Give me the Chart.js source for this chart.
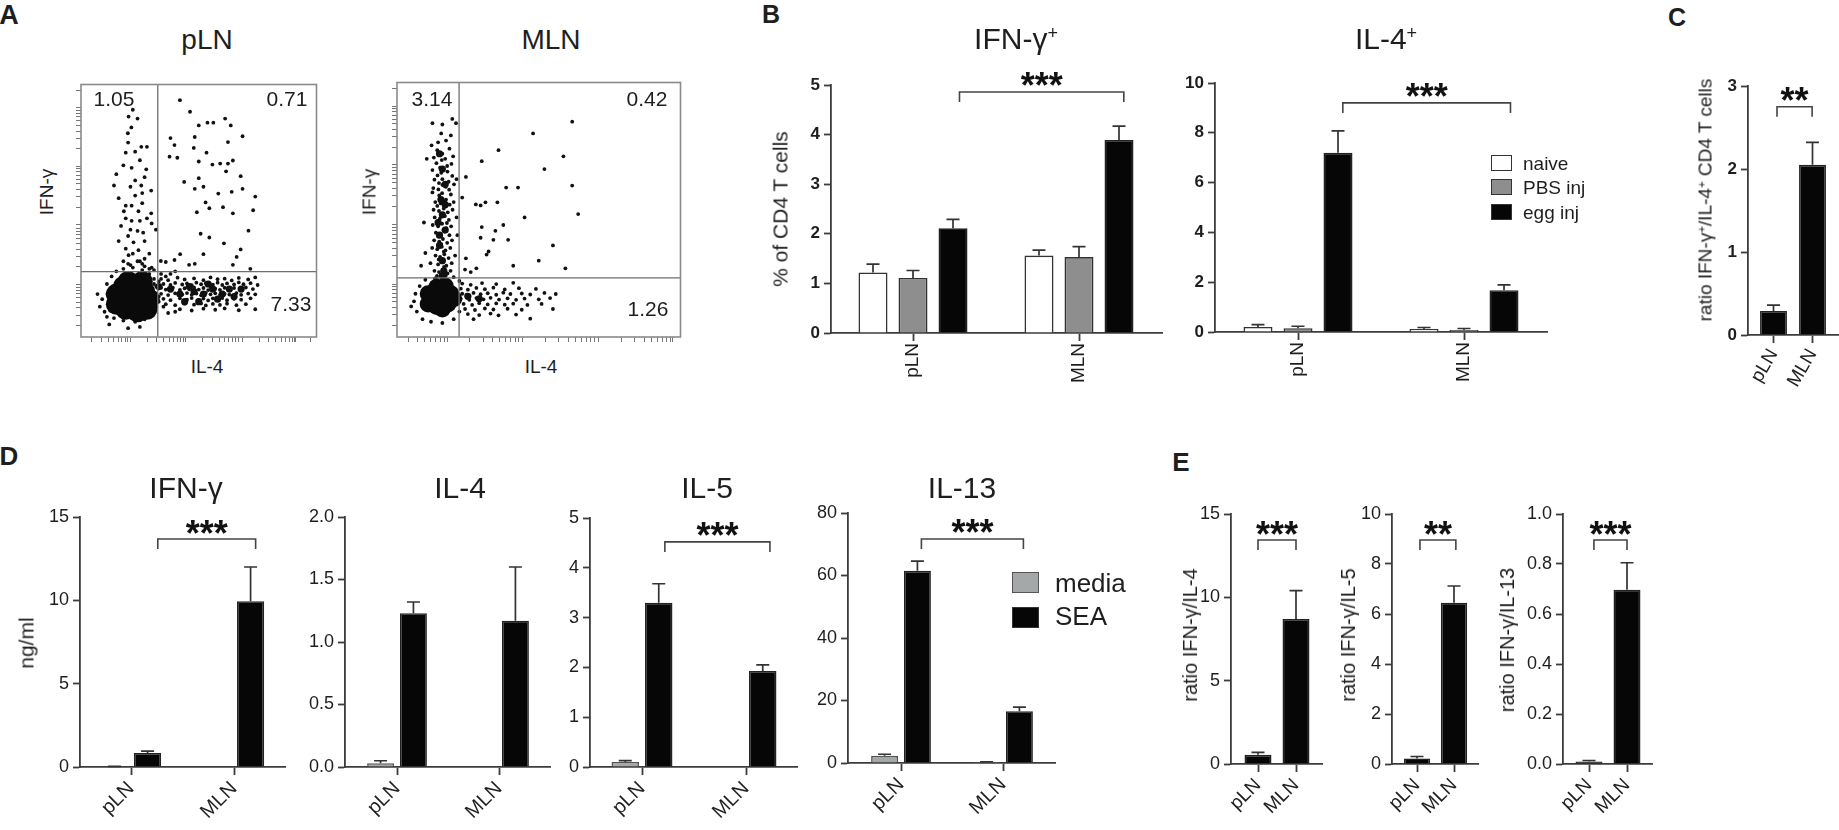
<!DOCTYPE html>
<html><head><meta charset="utf-8">
<script src="https://cdn.jsdelivr.net/npm/chart.js@4.4.1/dist/chart.umd.min.js"></script>
<style>
html,body{margin:0;padding:0;background:#fff}
body{width:1839px;height:830px;position:relative;overflow:hidden;font-family:"Liberation Sans",Arial,sans-serif;color:#1e1e1e}
canvas{position:absolute}
.t{position:absolute;white-space:nowrap;line-height:1}
.c{transform:translate(-50%,-50%)}
.r{transform:translate(-50%,-50%) rotate(-90deg)}
.b{font-weight:bold}
.sp{font-size:0.6em;position:relative;top:-0.55em}
.lb{position:absolute;box-sizing:border-box}
</style></head><body>
<canvas id="fa1"></canvas><canvas id="fa2"></canvas>
<canvas id="cb1"></canvas><canvas id="cb2"></canvas><canvas id="cc"></canvas>
<canvas id="cd1"></canvas><canvas id="cd2"></canvas><canvas id="cd3"></canvas><canvas id="cd4"></canvas>
<canvas id="ce1"></canvas><canvas id="ce2"></canvas><canvas id="ce3"></canvas>

<!-- Panel A text -->
<div class="t c b" style="left:9px;top:15px;font-size:27px">A</div>
<div class="t c" style="left:207px;top:40px;font-size:28px">pLN</div>
<div class="t c" style="left:551px;top:40px;font-size:28px">MLN</div>
<div class="t c" id="q1" style="left:114px;top:98px;font-size:21px"></div>
<div class="t c" id="q2" style="left:287px;top:98px;font-size:21px"></div>
<div class="t c" id="q3" style="left:291px;top:303px;font-size:21px"></div>
<div class="t c" id="q4" style="left:432px;top:98px;font-size:21px"></div>
<div class="t c" id="q5" style="left:647px;top:98px;font-size:21px"></div>
<div class="t c" id="q6" style="left:648px;top:308px;font-size:21px"></div>
<div class="t r" style="left:46px;top:192px;font-size:19px">IFN-γ</div>
<div class="t r" style="left:369px;top:192px;font-size:19px">IFN-γ</div>
<div class="t c" style="left:207px;top:366px;font-size:19px">IL-4</div>
<div class="t c" style="left:541px;top:366px;font-size:19px">IL-4</div>

<!-- Panel B text -->
<div class="t c b" style="left:771px;top:14px;font-size:25px">B</div>
<div class="t c" style="left:1016px;top:39px;font-size:30px">IFN-γ<span class="sp">+</span></div>
<div class="t c" style="left:1386px;top:39px;font-size:30px">IL-4<span class="sp">+</span></div>
<div class="t r" style="left:780px;top:209px;font-size:21px">% of CD4 T cells</div>
<div class="lb" style="left:1491px;top:155px;width:21px;height:16px;background:#fff;border:1.5px solid #333"></div>
<div class="lb" style="left:1491px;top:179px;width:21px;height:16px;background:#8e8e8e;border:1.5px solid #333"></div>
<div class="lb" style="left:1491px;top:204px;width:21px;height:16px;background:#060606;border:1.5px solid #333"></div>
<div class="t" id="lgB0" style="left:1523px;top:154px;font-size:19px"></div>
<div class="t" id="lgB1" style="left:1523px;top:178px;font-size:19px"></div>
<div class="t" id="lgB2" style="left:1523px;top:203px;font-size:19px"></div>

<!-- Panel C text -->
<div class="t c b" style="left:1677px;top:17px;font-size:25px">C</div>
<div class="t r" style="left:1705px;top:200px;font-size:19px">ratio IFN-γ<span class="sp">+</span>/IL-4<span class="sp">+</span> CD4 T cells</div>

<!-- Panel D text -->
<div class="t c b" style="left:9px;top:456px;font-size:26px">D</div>
<div class="t c" style="left:186px;top:488px;font-size:30px">IFN-γ</div>
<div class="t c" style="left:460px;top:488px;font-size:30px">IL-4</div>
<div class="t c" style="left:707px;top:488px;font-size:30px">IL-5</div>
<div class="t c" style="left:962px;top:488px;font-size:30px">IL-13</div>
<div class="t r" style="left:26px;top:643px;font-size:21px">ng/ml</div>
<div class="lb" style="left:1012px;top:572px;width:27px;height:21px;background:#a5a8a8;border:1.5px solid #555"></div>
<div class="lb" style="left:1012px;top:607px;width:27px;height:21px;background:#060606;border:1.5px solid #333"></div>
<div class="t" id="lgD0" style="left:1055px;top:570px;font-size:26px"></div>
<div class="t" id="lgD1" style="left:1055px;top:603px;font-size:26px"></div>

<!-- Panel E text -->
<div class="t c b" style="left:1181px;top:462px;font-size:26px">E</div>
<div class="t r" style="left:1190px;top:635px;font-size:20px">ratio IFN-γ/IL-4</div>
<div class="t r" style="left:1348px;top:635px;font-size:20px">ratio IFN-γ/IL-5</div>
<div class="t r" style="left:1507px;top:640px;font-size:20px">ratio IFN-γ/IL-13</div>

<script>
// ================= DATA =================
const nodeCats = ['pLN', 'MLN'];

// ---- Panel A: flow cytometry (IL-4 on x, IFN-γ on y, display units 0-100) ----
const pLNQuad = ['1.05', '0.71', '7.33'];
const MLNQuad = ['3.14', '0.42', '1.26'];
const pLNGate = [32.6, 25.9];
const MLNGate = [21.9, 23.2];
// dense cores (big marks), medium-density spots, single events
const pLNCore = [[17,15],[21,13],[25,14],[27,18],[23,20],[18,20],[15,17],[21,17],[19,11],[24,10],[29,15],[15,13],[20,22],[26,22],[28,11]];
const pLNMid = [[48,18],[52,17],[56,19],[60,17],[63,19],[54,21],[58,15],[46,20],[50,14],[65,16],[42,17],[38,19],[68,19],[44,14],[33,20],[31,13],[12,17],[13,11]];
const pLNDots = [
 [20.2,87.3],[24,86.5],[21.4,83],[19.9,80.7],[19,73],[23,73.4],[25.6,75.3],[28,75.3],[15,64.5],[21.5,67],[27.7,66.4],[27,63.3],
 [21,59.5],[25.6,60],[29.8,58],[21.5,52],[18.2,49.8],[24.4,49.8],[29.8,49],[21.5,46],[25,46],[21,42.5],[26.4,41.3],[22.3,37.5],
 [24.4,34.4],[20.2,32.4],[27,31],[31.8,42.5],
 [16,55],[19,52],[23,56],[26,53],[28,47],[17,44],[20,40],[24,42],[27,38],[19,35],[22,33],[25,30],[18,30],[29,33],[21,28.5],
 [26,29],[16,38],[30,45],[14,60],[23,62],[18,68],[25,70],[20,77],[22,90],[26,57],[19,47],
 [42,93.8],[46.3,89.2],[50,83.8],[53.7,84.9],[56.2,84.9],[61.2,86.5],[63.6,83.8],[68.6,79.5],[38,78.8],[39.7,76],[48.3,79.2],
 [47.9,74.9],[53.3,73],[62.4,77.2],[37.6,71.4],[40.9,71],[50,69.5],[55.8,68.3],[59.1,68.7],[62.4,68.7],[64.5,69.9],[61.6,65.6],
 [67.8,63.7],[43.8,61.4],[50,62.9],[48.3,58.7],[52,59.5],[58.3,56.8],[64,57.5],[68.6,58.7],[74,55.6],[52.9,53.3],[54.5,51],
 [49.2,49.4],[60.3,51.4],[64.5,49],[73.1,50.2],[50.8,40.9],[54.5,39.4],[71.1,42.1],[60.7,37.1],[52,32.8],[67.8,34.7],[66.1,31.7],
 [64.5,28.6],[42.1,32.8],[39.7,30.5],[33.9,30.1],[36,29.7],[45.9,28.6],[48.3,29],[71.9,27],
 [34,23],[37,22.5],[41,23.5],[44,22.8],[48,23.2],[52,22.5],[55,23.6],[58,22.9],[61,23.1],[64,22.4],[67,23.4],[71,22.8],[74,23.6],
 [35,21],[38,20.6],[40,21.4],[43,20.8],[45,21.2],[47,20.5],[49,21.5],[51,20.9],[53,21.3],[56,20.7],[58,21.5],[60,20.6],[62,21.2],
 [65,20.8],[67,21.6],[69,20.9],[72,21.3],[75,20.6],
 [33,19.2],[36,18.8],[39,19.5],[42,18.7],[44,19.3],[46,18.9],[48,19.6],[50,18.8],[52,19.4],[54,18.6],[55,19.8],[57,19.1],[59,18.7],
 [61,19.5],[63,18.9],[65,19.4],[68,18.8],[70,19.6],[73,19.0],
 [34,17.1],[37,16.6],[40,17.3],[43,16.8],[45,17.4],[47,16.7],[49,17.2],[51,16.5],[53,17.5],[55,16.9],[57,17.3],[59,16.6],[61,17.1],
 [63,16.8],[66,17.4],[68,16.7],[71,17.2],[74,16.9],
 [35,15.1],[38,14.6],[42,15.3],[45,14.8],[47,15.4],[50,14.7],[52,15.2],[54,14.5],[56,15.3],[58,14.9],[60,15.4],[62,14.6],[65,15.1],
 [68,14.8],[72,15.3],
 [36,13.0],[40,12.6],[44,13.2],[48,12.8],[51,13.3],[53,12.5],[56,13.1],[59,12.7],[62,13.2],[66,12.6],[70,13.0],
 [42,11.0],[47,10.5],[52,11.2],[57,10.8],[61,11.3],[67,10.6],[74,11.0],
 [31,21],[33,22],[34,19.5],[32,17],[33,14],[31,11],[35,12],[36,24],[38,25],[40,26],[34,25],[31,26.5],[29,27],[37,9.5],[40,10],
 [10,10],[9,15],[11,21],[13,24],[15,26],[18,27],[22,27.5],[26,26.5],[29,25],[31,23],[32,20],[33,16],[32,12],[30,8.5],[27,7],
 [23,6],[18,6.5],[14,7.5],[11,8],[30,27.5],[27,28],[20,29],[24,30],[7,17],[8,12],[12,5],[25,4],[20,3.5]
];
const MLNCore = [[11,13],[14,12],[18,13],[19,17],[15,16],[11,17],[14,19.5],[17,20],[16,11],[12,15.5],[20,15]];
const MLNMid = [[16,30],[15,36],[17,42],[16,48],[15.5,54],[17,60],[16,66],[15,72],[16.5,26],[15,40],[17,52],[14.5,45],[16,24],[25,16],[29,15]];
const MLNDots = [
 [12.5,84],[19.5,85.7],[20.8,84],[16,83.5],[15.6,80],[19,79.2],[17.3,77.2],[12.2,75.3],[14.5,76.5],[14.2,73.4],[18.5,74],[16,72],
 [13,70.5],[15.8,69.5],[19.8,71],[17,70],[13.9,68.3],[17.7,67.2],[15.2,66.5],[19.2,68],[12.5,65.6],[15.6,64.5],[17.8,65],[14.3,63.5],
 [19.5,63.3],[13.2,61.8],[16,62],[18.2,61],[14.8,60.5],[20.1,60],[12.8,58.5],[16,59.8],[18.4,57.9],[14.6,58],[17.2,59],[12.5,56.8],
 [14.9,55.6],[17.3,54],[19,56],[15.9,56.5],[13.5,53],[15.4,52.5],[16.8,53.3],[18.6,52],[14.2,51.5],[20,53],[12.9,50],[14.8,49.5],
 [16.5,50.5],[17.9,49],[19.6,50],[15.7,48.5],[13.3,47],[15.1,46.5],[16.9,47.5],[18.3,46],[14.4,45.5],[17.6,44.8],[12.6,44],[14.5,43.5],
 [15.9,44.5],[17.4,42.8],[19.1,43.5],[16.4,42],[13.7,41],[15.3,40.5],[16.8,41.5],[18.5,40],[14.6,39.5],[13.1,38],[14.9,37.5],[16.2,38.5],
 [17.7,37],[19.4,38],[15.6,36.5],[12.4,35],[14.2,34.5],[15.8,35.5],[17.1,34],[18.8,35],[16.5,33.5],[13.6,32],[15.2,31.5],[16.7,32.5],
 [18.2,31],[14.7,30.5],[20.5,32],[11.8,29],[14.5,28.5],[15.9,29.5],[17.4,28],[19.3,29],[16.6,27.5],[13.2,26],[14.8,25.5],[16.3,26.5],
 [17.8,25],[15.5,24.5],[18.9,26],[14.1,24],[15.7,23.5],[17.2,24.2],[16.4,22.8],[13.4,23],
 [10.5,70],[21,62],[9.5,45],[21.3,40],[8.5,28],[10,33],[21,47],
 [23,21],[26,20.5],[30,21.2],[35,20.8],[41,21.3],
 [22.5,19],[25,18.6],[28,19.3],[31,18.8],[34,19.4],[38,18.7],[43,19.2],[49,18.9],
 [23,17],[24.5,16.5],[27,17.3],[29.5,16.8],[32,17.2],[35,16.6],[37.5,17.4],[40,16.9],[44,17.1],[47,16.7],[52,17.3],[56,16.9],
 [22.5,15],[25.5,14.6],[28,15.3],[30.5,14.8],[33,15.4],[36,14.7],[39,15.2],[42,14.6],[45,15.1],[50,14.8],[54,15.3],
 [23.5,13],[26.5,12.6],[29,13.3],[32,12.8],[35,13.2],[38,12.7],[41,13.1],[46,12.6],[51,13],
 [24,11],[27.5,10.6],[31,11.2],[34,10.8],[39,11.1],[44,10.7],[55,11],
 [25,9],[29,8.6],[33,9.2],[42,8.8],[27,7],[35.8,8.5],[47,7.2],
 [6,14],[7,10],[8,20],[9,7],[12,6],[16,5.5],[20,7],[22,10],[22,22],[20,23.5],[14,23],[10,22.5],[6.5,17],[5,12],
 [24.3,62.9],[29.9,69.1],[35.8,73.4],[38.5,58.7],[42.7,58.7],[23,54.8],[27.8,52.1],[29.5,51.7],[31.2,52.9],[35.4,52.9],[29.9,43.2],
 [34.7,41.7],[37.5,44],[39.2,38.2],[29.5,39],[34,38.2],[32.3,33.6],[31.6,32.4],[24.3,30.9],[61.8,84.6],[58.7,71],[61.8,59.5],
 [63.9,48.3],[59.4,27],[48,80],[52,66],[45,47],[55,36],[50,30],[41,28],[26,25.5],[28,27],[24,26.5]
];
// log-decade starts of the flow axes (display units)
const flowYDecades = [-2.4, 20.8, 44.4, 67.6, 90.7];
const pLNXDecades = [-2.5, 21, 44.5, 68.6, 90.5];
const MLNXDecades = [-8.7, 17.7, 44.4, 71.2, 97.2];

// ---- Panel B: % of CD4 T cells ----
const groupsB = ['naive', 'PBS inj', 'egg inj'];
const ifngNaive = [1.22, 1.56], ifngNaiveErr = [0.17, 0.11];
const ifngPBS   = [1.11, 1.53], ifngPBSErr   = [0.15, 0.21];
const ifngEgg   = [2.11, 3.89], ifngEggErr   = [0.18, 0.28];
const il4Naive  = [0.20, 0.12], il4NaiveErr  = [0.10, 0.06];
const il4PBS    = [0.15, 0.08], il4PBSErr    = [0.08, 0.06];
const il4Egg    = [7.20, 1.68], il4EggErr    = [0.88, 0.21];
const ticksB1 = ['0','1','2','3','4','5'];
const ticksB2 = ['0','2','4','6','8','10'];
const sigB1 = [['***', 0.28, 1.27, 4.86]];
const sigB2 = [['***', 0.27, 1.28, 9.2]];

// ---- Panel C ----
const ratioC = [0.29, 2.05], ratioCErr = [0.07, 0.27];
const ticksC = ['0','1','2','3'];
const sigC = [['**', 0.09, 0.99, 2.75]];

// ---- Panel D: ng/ml ----
const groupsD = ['media', 'SEA'];
const dIFNmedia  = [0.03, 0.00], dIFNmediaErr  = [0.01, 0],   dIFNsea  = [0.84, 9.95], dIFNseaErr  = [0.11, 2.05];
const dIL4media  = [0.03, 0.00], dIL4mediaErr  = [0.02, 0],   dIL4sea  = [1.23, 1.17], dIL4seaErr  = [0.09, 0.43];
const dIL5media  = [0.10, 0.00], dIL5mediaErr  = [0.03, 0],   dIL5sea  = [3.30, 1.93], dIL5seaErr  = [0.38, 0.12];
const dIL13media = [2.3, 0.3],   dIL13mediaErr = [0.5, 0.1],  dIL13sea = [61.5, 16.6], dIL13seaErr = [3.1, 1.3];
const ticksD1 = ['0','5','10','15'];
const ticksD2 = ['0.0','0.5','1.0','1.5','2.0'];
const ticksD3 = ['0','1','2','3','4','5'];
const ticksD4 = ['0','20','40','60','80'];
const sigD1 = [['***', 0.26, 1.21, 13.68]];
const sigD3 = [['***', 0.22, 1.23, 4.52]];
const sigD4 = [['***', 0.20, 1.20, 71.7]];

// ---- Panel E: ratios ----
const eIL4  = [0.55, 8.7],  eIL4Err  = [0.15, 1.7];
const eIL5  = [0.22, 6.45], eIL5Err  = [0.08, 0.67];
const eIL13 = [0.01, 0.697], eIL13Err = [0.004, 0.108];
const ticksE1 = ['0','5','10','15'];
const ticksE2 = ['0','2','4','6','8','10'];
const ticksE3 = ['0.0','0.2','0.4','0.6','0.8','1.0'];
const sigE1 = [['***', 0.0, 1.0, 13.44]];
const sigE2 = [['**', 0.08, 1.05, 8.96]];
const sigE3 = [['***', 0.13, 1.0, 0.896]];

// ================= TEXT FROM DATA =================
['q1','q2','q3'].forEach((id,i)=>document.getElementById(id).textContent = pLNQuad[i]);
['q4','q5','q6'].forEach((id,i)=>document.getElementById(id).textContent = MLNQuad[i]);
groupsB.forEach((g,i)=>document.getElementById('lgB'+i).textContent = g);
groupsD.forEach((g,i)=>document.getElementById('lgD'+i).textContent = g);

// ================= STYLE =================
const FONT = '"Liberation Sans", Arial, sans-serif';
const AX = '#3c3c3c';
const WHITE = '#ffffff', GREY = '#8e8e8e', BLACK = '#060606', MEDIA = '#a5a8a8';

const errPlugin = {
  id: 'errbars',
  afterDatasetsDraw(chart) {
    const ctx = chart.ctx, ys = chart.scales.y;
    chart.data.datasets.forEach((ds, di) => {
      if (!ds.err) return;
      const meta = chart.getDatasetMeta(di);
      meta.data.forEach((bar, i) => {
        const e = ds.err[i];
        if (!e) return;
        const v = ds.data[i].y;
        const yt = ys.getPixelForValue(v + e);
        const cap = 6.5;
        ctx.save();
        ctx.strokeStyle = '#333'; ctx.lineWidth = 1.7;
        ctx.beginPath();
        ctx.moveTo(bar.x, ys.getPixelForValue(v)); ctx.lineTo(bar.x, yt);
        ctx.moveTo(bar.x - cap, yt); ctx.lineTo(bar.x + cap, yt);
        ctx.stroke(); ctx.restore();
      });
    });
  }
};
const sigPlugin = {
  id: 'sig',
  afterDraw(chart, args, opts) {
    const items = opts.items || [];
    const ctx = chart.ctx, xs = chart.scales.x, ys = chart.scales.y;
    items.forEach(([label, a, b, h]) => {
      const x1 = xs.getPixelForValue(a), x2 = xs.getPixelForValue(b), y = ys.getPixelForValue(h);
      const leg = 10;
      ctx.save();
      ctx.strokeStyle = '#444'; ctx.lineWidth = 1.6;
      ctx.beginPath();
      ctx.moveTo(x1, y + leg); ctx.lineTo(x1, y); ctx.lineTo(x2, y); ctx.lineTo(x2, y + leg);
      ctx.stroke();
      ctx.fillStyle = '#111';
      ctx.font = 'bold 36px ' + FONT;
      ctx.textAlign = 'center'; ctx.textBaseline = 'alphabetic';
      ctx.fillText(label, (x1 + x2) / 2, y - 14 + 20.5);
      ctx.restore();
    });
  }
};

function barChart(id, g, series, ticks, sig, o) {
  const LW = 62, PT = 32, PB = 78, PR = 12;
  const cv = document.getElementById(id);
  const W = LW + (g.r - g.l) + PR, H = PT + (g.bot - g.top) + PB;
  cv.width = W; cv.height = H;
  cv.style.width = W + 'px'; cv.style.height = H + 'px';
  cv.style.left = (g.l - LW) + 'px'; cv.style.top = (g.top - PT) + 'px';
  const unit = g.x1 - g.x0;
  const xmin = (g.l - g.x0) / unit, xmax = 1 + (g.r - g.x1) / unit;
  const tv = ticks.map(Number);
  new Chart(cv, {
    type: 'bar',
    data: {
      datasets: series.map(s => ({
        label: s.label,
        data: s.vals.map((v, i) => ({ x: i, y: v })),
        err: s.err,
        backgroundColor: s.fill, borderColor: s.stroke, borderWidth: 1.6,
        categoryPercentage: o.cp, barPercentage: o.bp
      }))
    },
    options: {
      responsive: false, animation: false, devicePixelRatio: 1,
      layout: { padding: { top: PT, right: PR, left: 0, bottom: 0 } },
      plugins: { legend: { display: false }, tooltip: { enabled: false }, sig: { items: sig } },
      scales: {
        x: {
          type: 'linear', min: xmin, max: xmax, offset: false,
          grid: { display: true, drawOnChartArea: false, drawTicks: true, tickLength: 8, tickColor: AX, tickWidth: 1.8, offset: false },
          border: { display: true, color: AX, width: 1.8 },
          afterBuildTicks: s => { s.ticks = [{ value: 0 }, { value: 1 }]; },
          ticks: { callback: v => nodeCats[v], minRotation: o.rot, maxRotation: o.rot, autoSkip: false,
                   font: { family: FONT, size: o.xsize, weight: o.xweight }, color: '#1e1e1e', padding: 2 },
          afterFit: s => { s.height = PB; s.paddingLeft = 0; s.paddingRight = 0; }
        },
        y: {
          type: 'linear', min: tv[0], max: tv[tv.length - 1],
          grid: { display: true, drawOnChartArea: false, drawTicks: true, tickLength: 7, tickColor: AX, tickWidth: 1.8 },
          border: { display: true, color: AX, width: 1.8 },
          afterBuildTicks: s => { s.ticks = tv.map(v => ({ value: v })); },
          ticks: { callback: (v, i) => ticks[i], autoSkip: false,
                   font: { family: FONT, size: o.ysize, weight: o.yweight }, color: '#1e1e1e', padding: 4 },
          afterFit: s => { s.width = LW; s.paddingTop = 0; s.paddingBottom = 0; }
        }
      }
    },
    plugins: [errPlugin, sigPlugin]
  });
}

function decadeTicks(starts, width) {
  const out = [];
  starts.forEach(d => { for (let k = 1; k <= 9; k++) { const v = d + width * Math.log10(k); if (v >= 0 && v <= 100) out.push(v); } });
  return out;
}

function flowChart(id, box, core, coreR, mid, dots, gate, xTicks, yTicks) {
  const ML = 18, MT = 4, MR = 4, MB = 12;
  const cv = document.getElementById(id);
  const W = ML + (box.r - box.l) + MR, H = MT + (box.b - box.t) + MB;
  cv.width = W; cv.height = H;
  cv.style.width = W + 'px'; cv.style.height = H + 'px';
  cv.style.left = (box.l - ML) + 'px'; cv.style.top = (box.t - MT) + 'px';
  const boxPlugin = {
    id: 'box',
    afterDatasetsDraw(chart) {
      const { ctx, chartArea: a, scales: { x, y } } = chart;
      ctx.save();
      ctx.strokeStyle = '#6e6e6e'; ctx.lineWidth = 1.3;
      const gx = x.getPixelForValue(gate[0]), gy = y.getPixelForValue(gate[1]);
      ctx.beginPath();
      ctx.moveTo(gx, a.top); ctx.lineTo(gx, a.bottom);
      ctx.moveTo(a.left, gy); ctx.lineTo(a.right, gy);
      ctx.stroke();
      ctx.strokeStyle = '#8a8a8a'; ctx.lineWidth = 1.6;
      ctx.strokeRect(a.left, a.top, a.right - a.left, a.bottom - a.top);
      ctx.restore();
    }
  };
  const axis = (ticks, isX) => ({
    type: 'linear', min: 0, max: 100,
    grid: { display: true, drawOnChartArea: false, drawTicks: true, tickLength: 5, tickColor: '#777', tickWidth: 1 },
    border: { display: false },
    afterBuildTicks: s => { s.ticks = ticks.map(v => ({ value: v })); },
    ticks: { display: false },
    afterFit: s => { if (isX) { s.height = MB; s.paddingLeft = 0; s.paddingRight = 0; } else { s.width = ML; s.paddingTop = 0; s.paddingBottom = 0; } }
  });
  new Chart(cv, {
    type: 'scatter',
    data: { datasets: [
      { data: core.map(([x, y]) => ({ x, y })), pointRadius: coreR, backgroundColor: '#0a0a0a', borderWidth: 0 },
      { data: mid.map(([x, y]) => ({ x, y })), pointRadius: 3.6, backgroundColor: '#101010', borderWidth: 0 },
      { data: dots.map(([x, y]) => ({ x, y })), pointRadius: 1.9, backgroundColor: '#111', borderWidth: 0 }
    ] },
    options: {
      responsive: false, animation: false, devicePixelRatio: 1,
      layout: { padding: { top: MT, right: MR, left: 0, bottom: 0 } },
      plugins: { legend: { display: false }, tooltip: { enabled: false } },
      scales: { x: axis(xTicks, true), y: axis(yTicks, false) }
    },
    plugins: [boxPlugin]
  });
}

// ================= BUILD =================
flowChart('fa1', { l: 81, r: 323, t: 78, b: 337 }, pLNCore, 10.5, pLNMid, pLNDots, pLNGate,
  decadeTicks(pLNXDecades, 23.5), decadeTicks(flowYDecades, 23.2));
flowChart('fa2', { l: 397, r: 685, t: 78, b: 337 }, MLNCore, 8.5, MLNMid, MLNDots, MLNGate,
  decadeTicks(MLNXDecades, 26.5), decadeTicks(flowYDecades, 23.2));

const oB = { cp: 0.723, bp: 0.725, rot: 90, xsize: 19, xweight: 'normal', ysize: 17, yweight: 'bold' };
barChart('cb1', { l: 831, r: 1162, x0: 913, x1: 1079, top: 85, bot: 333 }, [
  { label: groupsB[0], vals: ifngNaive, err: ifngNaiveErr, fill: WHITE, stroke: '#333' },
  { label: groupsB[1], vals: ifngPBS, err: ifngPBSErr, fill: GREY, stroke: '#333' },
  { label: groupsB[2], vals: ifngEgg, err: ifngEggErr, fill: BLACK, stroke: '#222' }
], ticksB1, sigB1, oB);
barChart('cb2', { l: 1215, r: 1547, x0: 1298, x1: 1464, top: 83, bot: 332 }, [
  { label: groupsB[0], vals: il4Naive, err: il4NaiveErr, fill: WHITE, stroke: '#333' },
  { label: groupsB[1], vals: il4PBS, err: il4PBSErr, fill: GREY, stroke: '#333' },
  { label: groupsB[2], vals: il4Egg, err: il4EggErr, fill: BLACK, stroke: '#222' }
], ticksB2, sigB2, oB);

barChart('cc', { l: 1748, r: 1838, x0: 1773.5, x1: 1812.5, top: 86, bot: 335 }, [
  { label: 'ratio', vals: ratioC, err: ratioCErr, fill: BLACK, stroke: '#222' }
], ticksC, sigC, { cp: 1, bp: 0.69, rot: 60, xsize: 19, xweight: 'normal', ysize: 17, yweight: 'bold' });

const oD = { cp: 0.644, bp: 0.82, rot: 45, xsize: 20, xweight: 'normal', ysize: 18, yweight: 'normal' };
const dSeries = (m, me, s, se) => [
  { label: groupsD[0], vals: m, err: me, fill: MEDIA, stroke: '#555' },
  { label: groupsD[1], vals: s, err: se, fill: BLACK, stroke: '#222' }
];
barChart('cd1', { l: 80, r: 285, x0: 131, x1: 234, top: 517, bot: 767 }, dSeries(dIFNmedia, dIFNmediaErr, dIFNsea, dIFNseaErr), ticksD1, sigD1, oD);
barChart('cd2', { l: 345, r: 550, x0: 397, x1: 499, top: 517, bot: 767 }, dSeries(dIL4media, dIL4mediaErr, dIL4sea, dIL4seaErr), ticksD2, [], oD);
barChart('cd3', { l: 590, r: 797, x0: 642, x1: 746, top: 518, bot: 767 }, dSeries(dIL5media, dIL5mediaErr, dIL5sea, dIL5seaErr), ticksD3, sigD3, oD);
barChart('cd4', { l: 848, r: 1055, x0: 901, x1: 1003, top: 513, bot: 763 }, dSeries(dIL13media, dIL13mediaErr, dIL13sea, dIL13seaErr), ticksD4, sigD4, oD);

const oE = { cp: 1, bp: 0.71, rot: 45, xsize: 19, xweight: 'normal', ysize: 18, yweight: 'normal' };
barChart('ce1', { l: 1231, r: 1322, x0: 1258, x1: 1296, top: 514, bot: 764 }, [{ label: 'ratio', vals: eIL4, err: eIL4Err, fill: BLACK, stroke: '#222' }], ticksE1, sigE1, oE);
barChart('ce2', { l: 1392, r: 1478, x0: 1417, x1: 1454, top: 514, bot: 764 }, [{ label: 'ratio', vals: eIL5, err: eIL5Err, fill: BLACK, stroke: '#222' }], ticksE2, sigE2, oE);
barChart('ce3', { l: 1563, r: 1652, x0: 1589, x1: 1627, top: 514, bot: 764 }, [{ label: 'ratio', vals: eIL13, err: eIL13Err, fill: BLACK, stroke: '#222' }], ticksE3, sigE3, oE);
</script>
</body></html>
